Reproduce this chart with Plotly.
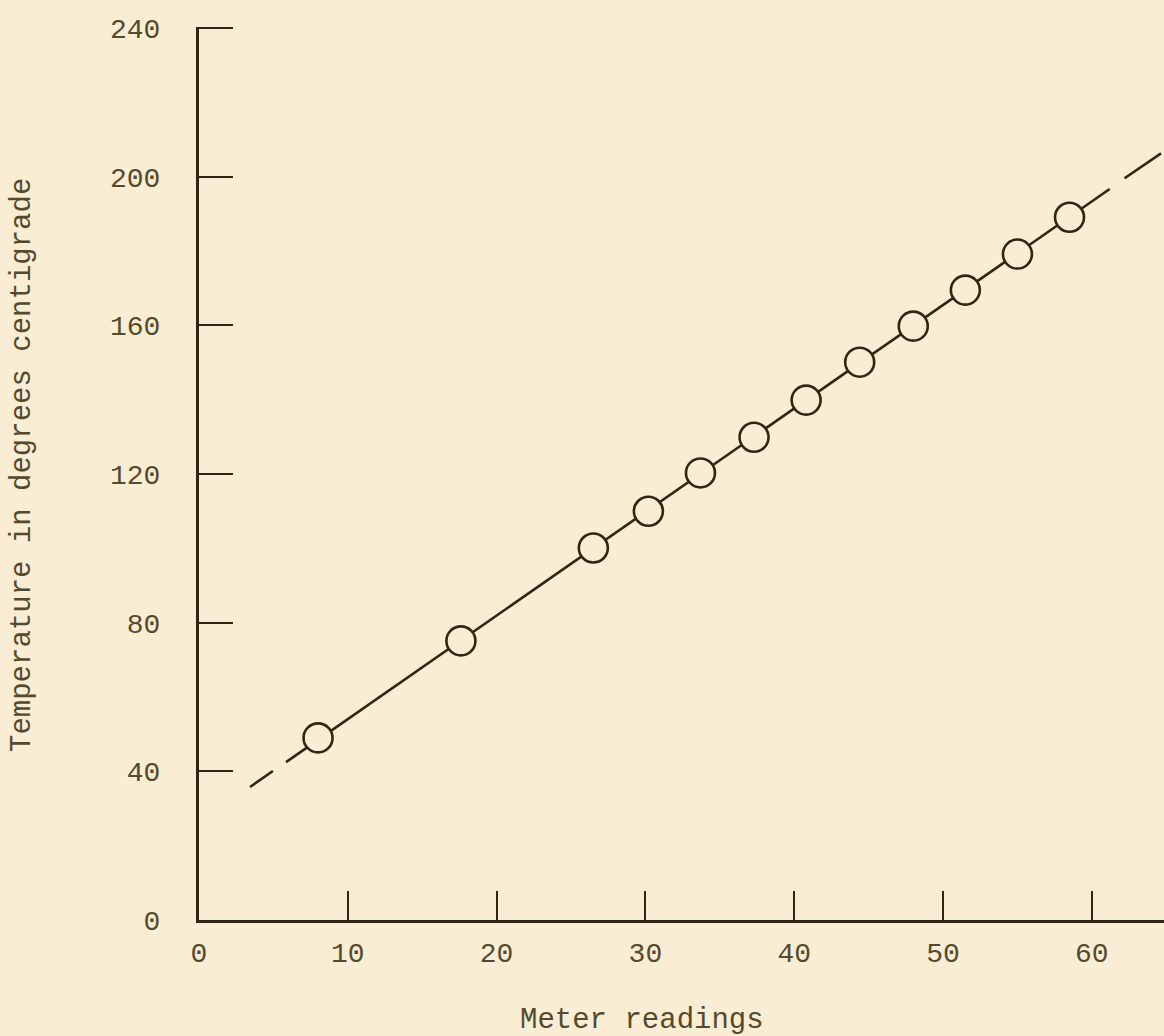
import plotly.graph_objects as go

# Data
meter_readings = [8.0, 17.6, 26.5, 30.2, 33.7, 37.3, 40.8, 44.4, 48.0, 51.5, 55.0, 58.5]
temperature_c = [49.0, 75.1, 100.1, 110.0, 120.3, 129.9, 139.9, 150.1, 159.8, 169.5, 179.2, 189.1]

# Calibration line as drawn (dash, solid part, dash)
fit_x = [3.43, 4.97, None, 5.85, 61.2, None, 62.2, 64.65]
fit_y = [35.8, 40.1, None, 42.5, 196.7, None, 199.6, 206.3]

x_ticks = [0, 10, 20, 30, 40, 50, 60]
y_ticks = [0, 40, 80, 120, 160, 200, 240]

BG = "#F9EDD3"
INK = "#2E2714"
TXT = "#544B2E"
FONT = "Liberation Mono, Courier New, monospace"

fig = go.Figure()
fig.add_trace(go.Scatter(
    x=fit_x, y=fit_y, mode="lines",
    line=dict(color=INK, width=2.6),
    connectgaps=False, hoverinfo="skip", cliponaxis=False,
))
fig.add_trace(go.Scatter(
    x=meter_readings, y=temperature_c, mode="markers",
    marker=dict(symbol="circle", size=29, color=BG,
                line=dict(color=INK, width=2.6)),
    cliponaxis=False,
))

# y range extended a hair above 240 so the top tick is drawn
fig.update_layout(
    width=1164, height=1036,
    margin=dict(l=199, r=0, t=27, b=116),
    paper_bgcolor=BG, plot_bgcolor=BG,
    showlegend=False,
    font=dict(family=FONT, size=28, color=TXT),
    xaxis=dict(
        range=[0, 64.85], showgrid=False, zeroline=False,
        showline=True, linecolor=INK, linewidth=3,
        tickmode="array", tickvals=x_ticks, ticktext=[str(v) for v in x_ticks],
        ticks="inside", ticklen=29, tickwidth=2.2, tickcolor=INK,
        ticklabelstandoff=5,
        tickfont=dict(family=FONT, size=28, color=TXT),
    ),
    yaxis=dict(
        range=[0, 240.3], showgrid=False, zeroline=False,
        showline=True, linecolor=INK, linewidth=3,
        tickmode="array", tickvals=y_ticks, ticktext=[str(v) for v in y_ticks],
        ticks="inside", ticklen=34, tickwidth=2.2, tickcolor=INK,
        ticklabelstandoff=30,
        tickfont=dict(family=FONT, size=28, color=TXT),
    ),
    annotations=[
        dict(text="Meter readings", xref="paper", yref="paper",
             x=(642 - 199) / 965, y=(920 - 1020) / 893,
             xanchor="center", yanchor="middle", showarrow=False,
             font=dict(family=FONT, size=29, color=TXT)),
        dict(text="Temperature in degrees centigrade", xref="paper", yref="paper",
             x=(22 - 199) / 965, y=(920 - 465) / 893, textangle=-90,
             xanchor="center", yanchor="middle", showarrow=False,
             font=dict(family=FONT, size=29, color=TXT)),
    ],
)

fig.write_html("out.html")
